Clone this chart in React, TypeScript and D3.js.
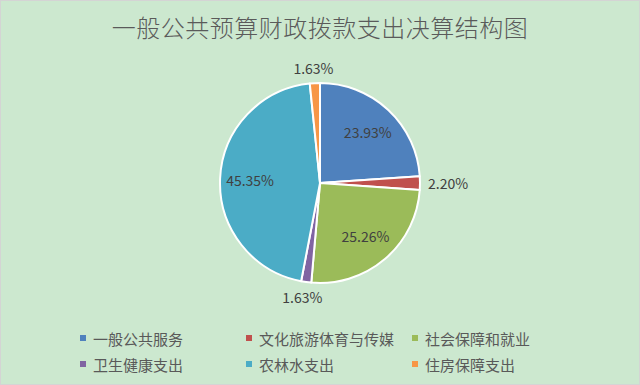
import React, { useEffect, useRef } from 'react';
import * as d3 from 'd3';

const categories = ['一般公共服务', '文化旅游体育与传媒', '社会保障和就业', '卫生健康支出', '农林水支出', '住房保障支出'];
const shares = [23.93, 2.2, 25.26, 1.63, 45.35, 1.63];
const labels = ['23.93%', '2.20%', '25.26%', '1.63%', '45.35%', '1.63%'];
const colors = ['#4f81bd', '#c0504d', '#9bbb59', '#8064a2', '#4bacc6', '#f79646'];
const title = '一般公共预算财政拨款支出决算结构图';

const W = 640;
const H = 385;

export default function App() {
  const svgRef = useRef<SVGSVGElement>(null);

  useEffect(() => {
    if (!svgRef.current) return;
    const svg = d3.select(svgRef.current);
    svg.selectAll('*').remove();

    svg.append('rect')
      .attr('x', 0.5).attr('y', 0.5)
      .attr('width', W - 1).attr('height', H - 1)
      .attr('fill', '#cce8cf')
      .attr('stroke', '#d4d4d4');

    svg.append('text')
      .attr('x', W / 2)
      .attr('y', 37)
      .attr('text-anchor', 'middle')
      .attr('font-family', '"Noto Sans CJK SC", sans-serif')
      .attr('font-size', 24)
      .attr('font-weight', 300)
      .attr('letter-spacing', 0.5)
      .attr('fill', '#5a5a5a')
      .text(title);

    const cx = 320;
    const cy = 183;
    const radius = 100;

    const pie = d3.pie<number>().sort(null).value(d => d);
    const arcs = pie(shares);
    const arc = d3.arc<d3.PieArcDatum<number>>().innerRadius(0).outerRadius(radius);

    const g = svg.append('g').attr('transform', `translate(${cx},${cy})`);

    g.selectAll('path')
      .data(arcs)
      .join('path')
      .attr('d', arc)
      .attr('fill', (_, i) => colors[i])
      .attr('stroke', '#ffffff')
      .attr('stroke-width', 2)
      .attr('stroke-linejoin', 'round');

    // data labels: inside for big slices, outside for small ones
    arcs.forEach((a, i) => {
      const mid = (a.startAngle + a.endAngle) / 2;
      const inside = a.data > 5;
      const t = g.append('text')
        .attr('text-anchor', 'middle')
        .attr('dominant-baseline', 'central')
        .attr('font-family', '"Noto Sans CJK SC", "Open Sans", sans-serif')
        .attr('font-size', 14)
        .attr('fill', '#404040')
        .text(labels[i]);
      if (inside) {
        const r = radius * 0.7;
        t.attr('x', r * Math.sin(mid)).attr('y', -r * Math.cos(mid));
      } else {
        const r = radius + 8;
        const w = (t.node() as SVGTextElement).getComputedTextLength();
        const h = 14;
        t.attr('x', r * Math.sin(mid) + Math.sin(mid) * w / 2)
          .attr('y', -r * Math.cos(mid) - Math.cos(mid) * h / 2);
      }
    });

    // legend
    const colX = [83, 249, 415];
    const rowY = [338, 364];
    categories.forEach((c, i) => {
      const x = colX[i % 3];
      const y = rowY[Math.floor(i / 3)];
      svg.append('rect')
        .attr('x', x - 3).attr('y', y - 3)
        .attr('width', 6).attr('height', 6)
        .attr('fill', colors[i]);
      svg.append('text')
        .attr('x', x + 10)
        .attr('y', y)
        .attr('dominant-baseline', 'central')
        .attr('font-family', '"Noto Sans CJK SC", sans-serif')
        .attr('font-size', 15)
        .attr('fill', '#595959')
        .text(c);
    });
  }, []);

  return (
    <div style={{ position: 'absolute', left: 0, top: 0 }}>
      <svg ref={svgRef} width={W} height={H} style={{ display: 'block' }} />
    </div>
  );
}
